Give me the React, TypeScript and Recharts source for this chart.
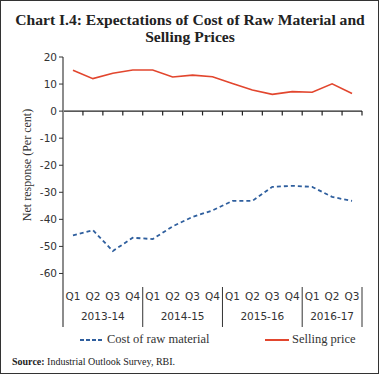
import { LineChart, Line, XAxis, YAxis, ReferenceLine } from "recharts";

const quarters = ["Q1", "Q2", "Q3", "Q4", "Q1", "Q2", "Q3", "Q4", "Q1", "Q2", "Q3", "Q4", "Q1", "Q2", "Q3"];
const years = ["2013-14", "2014-15", "2015-16", "2016-17"];
const quartersPerYear = [4, 4, 4, 3];
const costOfRawMaterial = [-45.9, -44, -51.7, -46.8, -47.3, -42.6, -39.1, -36.7, -33.2, -33.2, -28, -27.6, -28, -31.7, -33.2];
const sellingPrice = [15.1, 12, 14, 15.2, 15.2, 12.6, 13.3, 12.7, 10.2, 7.8, 6.2, 7.2, 7, 10.1, 6.5];
const yTicks = [20, 10, 0, -10, -20, -30, -40, -50, -60];

const data = quarters.map((q, i) => ({
  x: i + 0.5,
  q,
  cost: costOfRawMaterial[i],
  selling: sellingPrice[i],
}));

// year group boundaries and centres along the category axis
const boundaries: number[] = [0];
const yearCentres: number[] = [];
quartersPerYear.reduce((start, n) => {
  boundaries.push(start + n);
  yearCentres.push(start + n / 2);
  return start + n;
}, 0);

const qCentres = data.map((d) => d.x);
const allTicks = Array.from(new Set([...qCentres, ...boundaries, ...yearCentres]));
const zeroTicks = Array.from({ length: quarters.length }, (_, i) => i + 1);

const sans = "DejaVu Sans";
const serif = "Liberation Serif";

function CategoryTick(props: any) {
  const { x, y, payload } = props;
  const v = payload.value;
  const parts = [];
  const qi = qCentres.indexOf(v);
  if (qi >= 0) {
    parts.push(
      <text key="q" x={x} y={y + 13} textAnchor="middle" fontSize={10.5} fontFamily={sans} fill="#333">
        {quarters[qi]}
      </text>
    );
  }
  const yi = yearCentres.indexOf(v);
  if (yi >= 0) {
    parts.push(
      <text key="y" x={x} y={y + 33} textAnchor="middle" fontSize={10.5} fontFamily={sans} fill="#333">
        {years[yi]}
      </text>
    );
  }
  const bi = boundaries.indexOf(v);
  if (bi >= 0) {
    parts.push(
      <line
        key="b"
        x1={x}
        x2={x}
        y1={y}
        y2={y + 40}
        stroke={bi === 0 ? "#8c8c8c" : "#333"}
        strokeWidth={bi === 0 ? 2 : 1}
      />
    );
  }
  return <g>{parts}</g>;
}

export default function App() {
  return (
    <div style={{ position: "absolute", left: 0, top: 0, width: 380, height: 376, background: "#fff" }}>
      <div
        style={{
          position: "absolute", left: 0, top: 0, width: 379, height: 374,
          border: "1px solid #333", boxSizing: "border-box",
        }}
      />
      <div
        style={{
          position: "absolute", left: 0, top: 11, width: 380, textAlign: "center",
          fontFamily: serif, fontWeight: "bold", fontSize: 15.6, lineHeight: "17px", color: "#222",
        }}
      >
        Chart I.4: Expectations of Cost of Raw Material and
        <br />
        Selling Prices
      </div>
      <div style={{ position: "absolute", left: 27, top: 165, width: 0, height: 0 }}>
        <div
          style={{
            position: "absolute", transform: "translate(-50%, -50%) rotate(-90deg)",
            whiteSpace: "nowrap", fontFamily: serif, fontSize: 12, color: "#333",
          }}
        >
          Net response (Per cent)
        </div>
      </div>

      <div style={{ position: "absolute", left: 0, top: 0 }}>
        <LineChart width={380} height={376} data={data} margin={{ top: 57, right: 18, bottom: 49, left: 23 }}>
          <XAxis
            dataKey="x"
            type="number"
            domain={[0, 15]}
            ticks={allTicks}
            interval={0}
            axisLine={false}
            tickLine={false}
            tickSize={0}
            tickMargin={0}
            height={40}
            tick={<CategoryTick />}
          />
          <YAxis
            domain={[-65, 20]}
            ticks={yTicks}
            interval={0}
            width={40}
            axisLine={{ stroke: "#8c8c8c", strokeWidth: 2 }}
            tickLine={{ stroke: "#333" }}
            tickSize={4}
            tickMargin={2}
            tick={{ fontSize: 10.5, fontFamily: sans, fill: "#333" }}
          />
          <ReferenceLine y={0} stroke="#222" strokeWidth={1.2} />
          {zeroTicks.map((b) => (
            <ReferenceLine
              key={b}
              segment={[{ x: b, y: 0 }, { x: b, y: -1.6 }]}
              stroke="#222"
              strokeWidth={1.2}
              ifOverflow="visible"
            />
          ))}
          <Line
            dataKey="selling"
            stroke="#e2462e"
            strokeWidth={1.6}
            dot={false}
            isAnimationActive={false}
          />
          <Line
            dataKey="cost"
            stroke="#2f5f9e"
            strokeWidth={1.8}
            strokeDasharray="4 3"
            dot={false}
            isAnimationActive={false}
          />
        </LineChart>
      </div>

      <div style={{ position: "absolute", left: 80, top: 332, display: "flex", alignItems: "center", fontFamily: serif, fontSize: 12.5, color: "#333" }}>
        <svg width={24} height={4} style={{ marginRight: 3 }}>
          <line x1={0} x2={24} y1={2} y2={2} stroke="#2f5f9e" strokeWidth={2} strokeDasharray="4 2" />
        </svg>
        Cost of raw material
      </div>
      <div style={{ position: "absolute", left: 265, top: 332, display: "flex", alignItems: "center", fontFamily: serif, fontSize: 12.5, color: "#333" }}>
        <svg width={24} height={4} style={{ marginRight: 3 }}>
          <line x1={0} x2={24} y1={2} y2={2} stroke="#e2462e" strokeWidth={2} />
        </svg>
        Selling price
      </div>
      <div style={{ position: "absolute", left: 12, top: 356, fontFamily: serif, fontSize: 10, color: "#222" }}>
        <b>Source:</b> Industrial Outlook Survey, RBI.
      </div>
    </div>
  );
}
